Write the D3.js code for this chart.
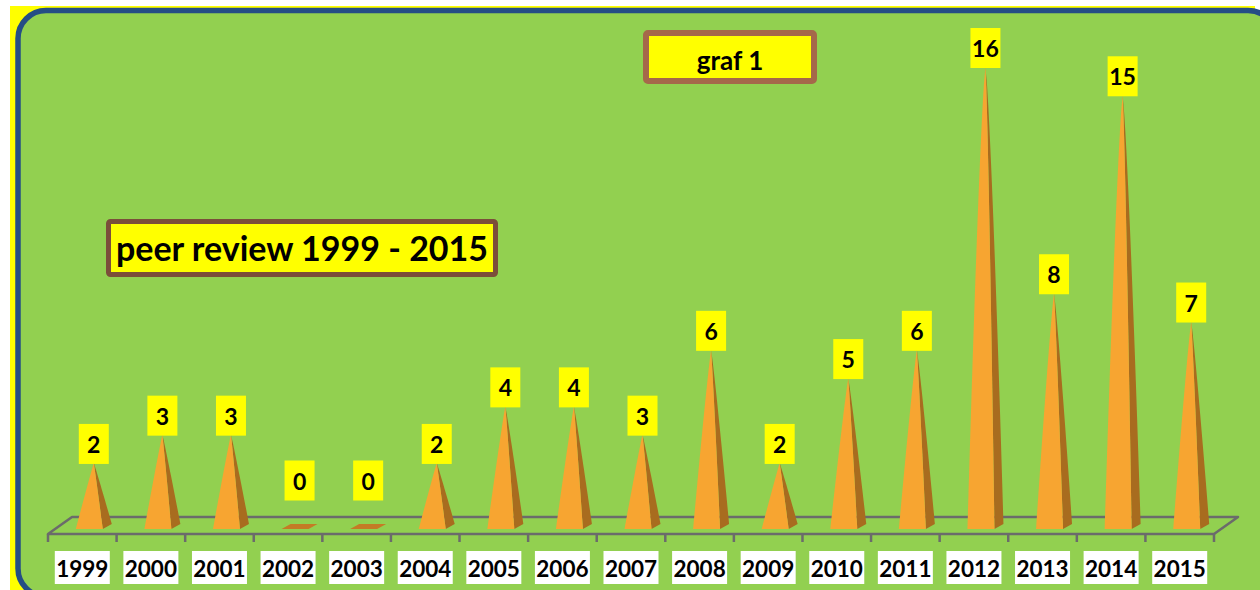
<!DOCTYPE html>
<html>
<head>
<meta charset="utf-8">
<script src="https://cdn.jsdelivr.net/npm/d3@7"></script>
<style>
  html, body { margin: 0; padding: 0; background: #ffffff; }
  svg { display: block; }
  text { font-family: Lato, "Open Sans", "DejaVu Sans", sans-serif; font-weight: bold; }
</style>
</head>
<body>
<svg id="chart" width="1260" height="590"></svg>
<script>
// ---- data ----
const years = ["1999","2000","2001","2002","2003","2004","2005","2006","2007","2008","2009","2010","2011","2012","2013","2014","2015"];
const counts = [2, 3, 3, 0, 0, 2, 4, 4, 3, 6, 2, 5, 6, 16, 8, 15, 7];
const chartTitle = "graf 1";
const chartSubtitle = "peer review 1999 - 2015";

// ---- layout ----
const svg = d3.select("#chart");

// yellow backdrop
svg.append("rect").attr("x", 10).attr("y", 6).attr("width", 1245).attr("height", 600)
  .attr("fill", "#ffff00");
// green panel with blue rounded frame
svg.append("rect").attr("x", 18).attr("y", 10.5).attr("width", 1258).attr("height", 586)
  .attr("rx", 28).attr("ry", 28)
  .attr("fill", "#92d050").attr("stroke", "#254e85").attr("stroke-width", 5.5);

// scales
const x = d3.scaleBand().domain(years).range([48, 1214]).padding(0);
const y = d3.scaleLinear().domain([0, 16]).range([519.5, 67]);

const depthX = 24, depthY = 17;     // floor depth offset
const floorFront = 534;

// ---- floor (3D base) ----
const floor = svg.append("g").attr("stroke", "#6b6b6b").attr("stroke-width", 2.5)
  .attr("fill", "none").attr("stroke-linejoin", "round");
const r0 = x.range()[0], r1 = x.range()[1];
floor.append("path").attr("d",
  `M${r0},${floorFront} L${r0 + depthX},${floorFront - depthY} L${r1 + depthX},${floorFront - depthY} L${r1},${floorFront} Z`);
const tickXs = years.map(d => x(d)).concat([r1]);
floor.selectAll("line.tick").data(tickXs).join("line")
  .attr("class", "tick")
  .attr("x1", d => d).attr("x2", d => d)
  .attr("y1", floorFront).attr("y2", floorFront + 8);

// ---- pyramids (perspective makes tall ones slightly convex) ----
const data = years.map((yr, i) => ({ year: yr, value: counts[i] }));
const baseFront = 529, baseBack = 524;
const maxVal = d3.max(counts);
function edge(ax, ay, bx, by, n, p) {
  const pts = [];
  for (let k = n; k >= 0; k--) {
    const s = k / n;
    pts.push([ax + (bx - ax) * Math.pow(s, p), ay + (by - ay) * s]);
  }
  return pts;
}
const line = d3.line();
const g = svg.append("g");
data.forEach(d => {
  const c = x(d.year) + x.bandwidth() / 2;
  const fl = c - 6.5, fr = c + 20.5, br = c + 29.5, bl = c + 2.5;
  const ax = c + 11.5;
  if (d.value === 0) {
    g.append("path")
      .attr("d", `M${fl},${baseFront} L${fr},${baseFront} L${br},${baseBack} L${bl},${baseBack} Z`)
      .attr("fill", "#c47b25");
  } else {
    const ay = y(d.value);
    const p = 1 - 0.25 * (d.value / maxVal);
    const n = 24;
    const eFL = edge(ax, ay, fl, baseFront, n, p);
    const eFR = edge(ax, ay, fr, baseFront, n, p);
    const eBR = edge(ax, ay, br, baseBack, n, p);
    const side = eFR.concat(eBR.slice().reverse());
    g.append("path").attr("d", line(side) + "Z").attr("fill", "#a86c1f");
    const front = eFL.concat(eFR.slice().reverse());
    g.append("path").attr("d", line(front) + "Z").attr("fill", "#f7a531");
  }
});

// ---- value labels ----
const lbl = svg.append("g");
data.forEach(d => {
  const c = x(d.year) + x.bandwidth() / 2;
  const ax = c + 11.5;
  const bottom = d.value === 0 ? y(0) - 19 : y(d.value) + 1;
  lbl.append("rect").attr("x", ax - 15).attr("y", bottom - 40)
    .attr("width", 30).attr("height", 40).attr("fill", "#ffff00");
  lbl.append("text").attr("x", ax).attr("y", bottom - 11)
    .attr("text-anchor", "middle").attr("font-size", 23).attr("fill", "#000")
    .text(d.value);
});

// ---- category labels ----
const cat = svg.append("g");
years.forEach(yr => {
  const c = x(yr) + x.bandwidth() / 2;
  cat.append("rect").attr("x", c - 27.5).attr("y", 551).attr("width", 55).attr("height", 33)
    .attr("fill", "#ffffff");
  cat.append("text").attr("x", c).attr("y", 577).attr("text-anchor", "middle")
    .attr("font-size", 22.5).attr("fill", "#000").text(yr);
});

// ---- title boxes ----
svg.append("rect").attr("x", 646).attr("y", 33).attr("width", 168).attr("height", 48)
  .attr("rx", 2).attr("fill", "#ffff00").attr("stroke", "#a5684a").attr("stroke-width", 6);
svg.append("text").attr("x", 730).attr("y", 70).attr("text-anchor", "middle")
  .attr("font-size", 26).attr("fill", "#000").text(chartTitle);

svg.append("rect").attr("x", 108.5).attr("y", 221.5).attr("width", 387).attr("height", 53)
  .attr("rx", 2).attr("fill", "#ffff00").attr("stroke", "#7b4e3a").attr("stroke-width", 5);
svg.append("text").attr("x", 302).attr("y", 261).attr("text-anchor", "middle")
  .attr("font-size", 34).attr("fill", "#000").text(chartSubtitle);
</script>
</body>
</html>
